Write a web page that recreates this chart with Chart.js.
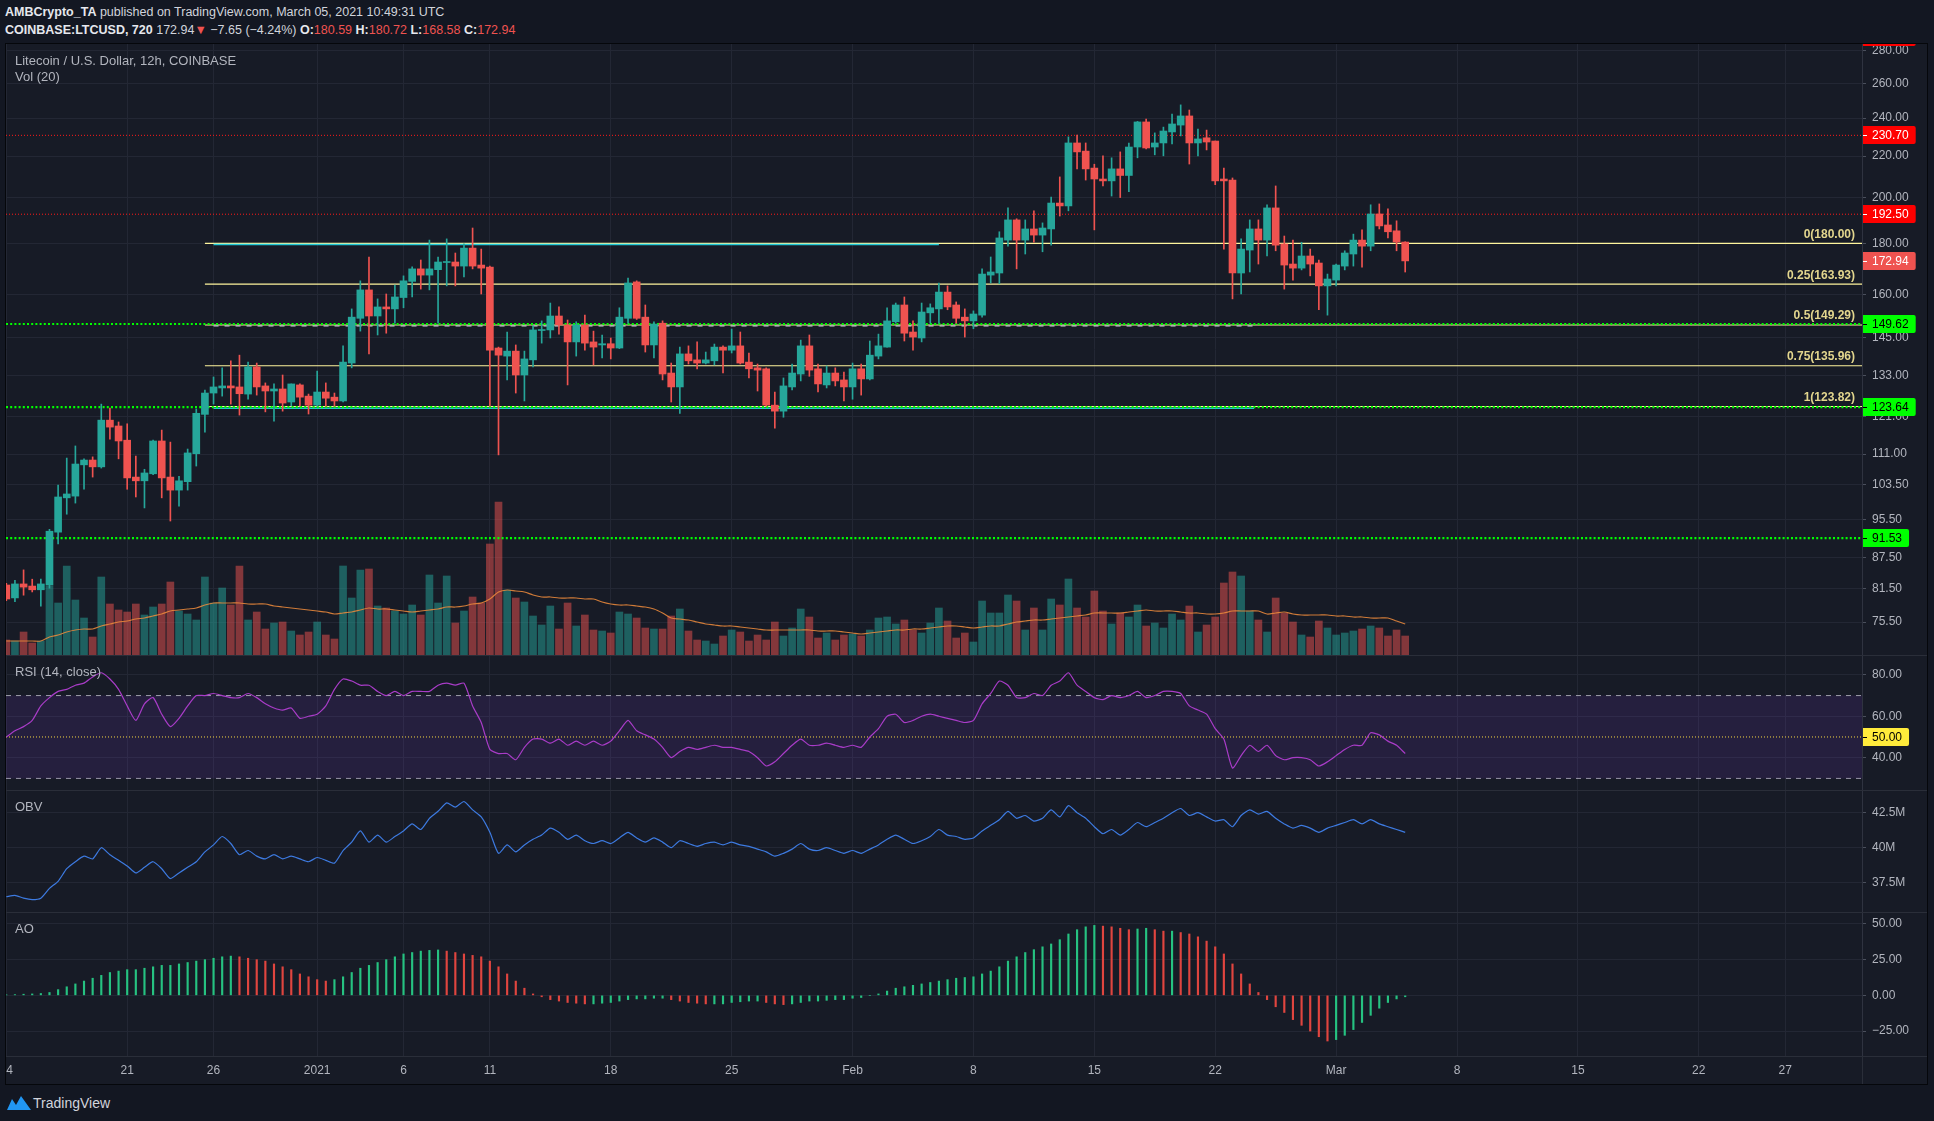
<!DOCTYPE html>
<html>
<head>
<meta charset="utf-8">
<script src="https://cdn.jsdelivr.net/npm/chart.js@4.4.1/dist/chart.umd.min.js"></script>
<style>
  html, body { margin: 0; padding: 0; background: #131722; width: 1934px; height: 1121px; overflow: hidden;
    font-family: "Liberation Sans", Arial, sans-serif; }
  .hdr { position: absolute; left: 5px; color: #d1d4dc; white-space: nowrap; line-height: 16px; font-size: 12.5px; }
  .hdr b { color: #e6e8ee; }
  .hdr .r { color: #ef5350; }
  #frame { position: absolute; left: 5px; top: 43px; width: 1923px; height: 1042px; box-sizing: border-box;
    border: 1px solid #05070b; background: #171b26; }
  canvas { position: absolute; left: 6px; }
  .sep { position: absolute; left: 6px; width: 1921px; height: 1px; background: #2a2e39; }
  #foot { position: absolute; left: 33px; top: 1095px; font-size: 14px; color: #d1d4dc; }
</style>
</head>
<body>
<div class="hdr" style="top:4px"><b>AMBCrypto_TA</b> published on TradingView.com, March 05, 2021 10:49:31 UTC</div>
<div class="hdr" style="top:22px"><b>COINBASE:LTCUSD, 720</b> 172.94<span class="r">▼</span> −7.65 (−4.24%) <b>O:</b><span class="r">180.59</span> <b>H:</b><span class="r">180.72</span> <b>L:</b><span class="r">168.58</span> <b>C:</b><span class="r">172.94</span></div>
<div id="frame"></div>
<canvas id="price" width="1921" height="611" style="top:44px"></canvas>
<canvas id="rsi" width="1921" height="134" style="top:656px"></canvas>
<canvas id="obv" width="1921" height="121" style="top:791px"></canvas>
<canvas id="ao" width="1921" height="171" style="top:913px"></canvas>
<div class="sep" style="top:655px"></div>
<div class="sep" style="top:790px"></div>
<div class="sep" style="top:912px"></div>
<div class="sep" style="top:1056px"></div>
<div style="position:absolute;left:1862px;top:1056px;width:1px;height:28px;background:#2a2e39"></div>
<svg style="position:absolute;left:7px;top:1094px" width="24" height="16" viewBox="0 0 24 16">
  <path d="M0 16 L5 5 L9 11 L14 2 L19 9 L24 16 Z" fill="#2196f3"/>
</svg>
<div id="foot">TradingView</div>
<script>
// 12h candles, index 0 = Dec 14 2020 00:00 UTC
const opens = [82.2,79.8,82.4,82.0,81.3,82.2,92.8,100.4,100.8,108.3,
  109.5,107.8,120.0,118.4,114.6,105.3,104.4,106.1,114.4,105.3,
  102.2,104.2,111.1,121.6,127.7,129.2,129.8,129.5,127.4,135.6,
  129.8,128.3,128.9,125.1,130.1,126.8,124.2,128.0,126.5,125.4,
  136.8,151.6,161.8,152.4,155.6,154.9,159.0,165.0,169.8,167.4,
  169.5,172.3,172.5,170.9,178.1,171.3,170.5,141.6,139.0,140.6,
  133.1,137.8,147.4,147.6,152.4,149.3,143.6,149.3,143.6,142.6,
  143.0,141.6,151.6,164.8,152.0,142.6,149.9,133.7,129.5,139.7,
  137.8,136.8,137.5,141.9,140.9,142.3,137.1,135.3,135.0,124.2,
  122.5,129.5,133.4,142.3,135.0,130.1,133.7,131.6,129.5,135.0,
  131.9,139.0,141.9,150.4,156.3,146.9,144.9,153.5,154.9,161.0,
  156.3,152.0,150.7,152.7,167.4,168.2,181.4,190.0,181.4,186.1,
  183.5,186.1,197.5,196.2,226.7,222.5,214.0,208.7,207.8,213.6,
  210.4,224.6,237.9,224.6,226.7,232.5,236.2,241.2,226.7,229.4,
  227.7,208.7,208.2,168.2,177.3,186.1,181.4,195.3,179.8,171.7,
  170.1,174.9,172.1,163.3,165.5,170.9,175.7,181.4,178.9,192.6,
  187.8,185.3,180.59];
const highs = [82.5,83.1,85.1,83.3,83.3,93.4,103.4,110.0,113.1,109.8,
  110.3,124.5,123.4,119.5,119.0,110.5,107.2,114.6,117.3,114.1,
  105.5,112.3,123.1,128.6,132.5,135.3,137.5,139.3,137.1,136.8,
  130.7,130.4,133.1,130.4,130.4,127.4,134.3,130.7,127.7,142.3,
  154.9,165.2,174.5,158.5,160.3,163.6,167.1,170.6,173.3,181.4,
  174.5,181.9,176.1,179.8,186.5,177.7,170.9,141.9,146.9,142.6,
  140.6,149.0,150.7,157.0,155.6,151.0,150.4,152.7,147.2,145.9,
  144.9,155.3,166.3,165.2,156.3,150.4,150.7,136.8,141.9,142.3,
  143.6,140.3,142.9,142.3,147.9,146.9,140.0,136.5,135.3,128.0,
  132.2,136.5,144.2,145.9,136.5,135.9,135.3,134.0,136.8,136.5,
  143.9,146.2,155.3,157.0,159.2,150.7,157.0,156.7,164.4,163.3,
  157.4,154.9,154.2,169.8,174.5,184.9,195.3,190.5,190.0,194.0,
  188.7,200.2,209.7,229.9,230.9,226.7,215.9,220.1,219.1,222.1,
  226.7,238.2,239.5,232.0,235.1,242.3,247.4,244.5,234.1,233.5,
  227.7,214.0,209.2,181.9,190.0,190.0,196.7,205.4,183.1,181.4,
  180.5,177.7,173.3,167.8,171.7,177.0,183.9,185.7,196.7,197.1,
  194.9,189.6,180.72];
const lows = [79.3,79.1,80.3,80.9,78.3,81.6,90.3,96.7,99.2,102.4,
  105.3,107.5,114.9,109.8,102.4,100.6,98.1,105.9,100.4,95.2,
  98.5,102.2,108.0,116.7,124.5,126.8,124.5,121.4,125.9,127.1,
  122.3,119.7,122.5,124.0,123.9,121.7,123.9,123.9,123.9,125.1,
  135.3,147.2,139.7,145.9,146.5,149.9,155.3,159.2,162.1,161.8,
  149.9,163.3,163.3,166.7,169.8,160.3,123.9,110.8,131.6,127.7,
  125.4,135.6,143.2,144.9,146.2,130.1,139.0,140.9,136.2,138.4,
  138.1,141.4,149.9,151.2,140.3,138.4,131.6,125.1,121.9,136.5,
  135.0,136.5,136.2,133.7,140.0,136.5,132.2,128.3,123.9,117.8,
  120.8,128.6,131.3,132.7,128.0,129.2,129.8,125.4,125.9,127.1,
  131.6,138.1,141.9,149.9,143.9,140.9,143.6,149.9,149.9,154.6,
  149.9,145.2,148.0,152.0,164.4,164.1,178.9,169.8,175.7,180.5,
  176.6,179.3,191.7,194.0,213.6,208.2,185.7,205.4,200.7,200.0,
  202.7,219.1,223.6,220.6,220.1,226.2,230.4,216.0,220.1,223.1,
  206.0,177.7,158.5,160.3,168.6,171.7,174.9,177.0,162.1,165.5,
  169.4,167.1,154.6,152.7,163.3,169.4,170.9,170.5,177.0,186.1,
  182.3,177.0,168.58];
const closes = [79.6,82.4,81.8,81.3,82.4,93.0,100.6,101.3,108.5,109.5,
  107.8,120.0,118.1,114.4,105.1,104.4,106.3,114.4,105.1,102.2,
  104.4,111.3,121.9,127.7,129.5,129.8,129.2,127.5,135.6,129.5,
  128.3,128.9,124.8,130.4,126.5,124.2,128.0,126.2,125.4,137.1,
  152.0,161.8,152.4,155.6,154.9,159.2,165.2,169.8,167.4,169.8,
  172.5,172.5,170.9,178.1,170.9,170.1,140.9,139.3,140.6,133.1,
  138.1,147.6,147.6,152.4,149.3,143.6,149.3,143.2,141.9,143.0,
  141.6,152.0,164.4,151.6,142.6,149.6,133.4,129.5,139.7,137.5,
  136.8,137.8,141.9,140.9,142.3,136.8,135.0,134.6,124.2,122.5,
  129.8,133.7,142.3,134.6,130.4,133.7,131.3,129.5,135.0,131.9,
  139.3,142.3,150.7,156.3,146.5,145.2,153.8,155.3,161.0,155.6,
  151.6,150.7,153.1,167.8,168.6,182.3,190.0,181.4,186.1,183.5,
  186.5,197.5,196.2,226.7,222.1,213.6,208.7,207.8,213.6,210.4,
  224.6,237.9,224.1,226.7,233.0,236.8,241.2,226.7,228.8,227.2,
  207.8,207.8,168.2,177.7,186.1,181.4,195.3,179.3,171.3,170.1,
  174.9,171.7,163.3,165.9,171.3,176.1,181.4,178.9,192.6,187.4,
  184.9,180.59,172.94];
// volume, thousand LTC
const volumes = [150,140,230,120,140,690,520,890,550,370,
  180,780,510,450,430,510,400,480,510,730,
  440,410,350,780,520,670,500,890,350,430,
  260,320,330,240,200,230,330,200,160,890,
  570,850,860,490,470,440,410,500,400,800,
  520,790,320,440,580,520,1110,1530,650,570,
  530,390,300,490,260,520,290,400,250,240,
  220,430,410,370,270,260,260,390,460,240,
  150,140,110,190,250,230,140,200,150,330,
  190,270,460,380,170,220,150,200,210,190,
  250,370,380,310,350,250,220,320,470,340,
  170,220,130,540,420,420,600,540,250,470,
  250,560,500,760,470,380,640,440,310,420,
  380,500,290,320,270,410,350,490,230,300,
  380,720,830,790,440,350,230,570,420,330,
  200,180,340,270,200,220,240,260,290,270,
  190,250,190];
const volumeMA = [140,140,140,140,140,180,200,230,250,260,
  260,290,310,330,340,360,370,390,410,440,
  450,460,470,500,520,520,520,520,510,510,
  510,490,480,470,460,450,440,430,410,420,
  430,450,470,460,460,450,440,430,440,450,
  460,480,480,490,510,520,560,630,650,640,
  630,600,580,580,570,570,570,560,560,530,
  510,500,500,490,480,460,420,370,360,350,
  330,310,300,290,290,280,270,260,250,250,
  250,250,250,250,240,240,240,230,220,210,
  220,230,240,250,250,260,260,270,280,290,
  290,280,270,280,290,290,310,330,340,350,
  350,360,370,380,390,400,420,420,420,420,
  430,440,450,440,440,440,430,420,420,410,
  410,420,440,440,440,440,410,420,430,410,
  400,400,400,400,390,390,380,380,370,370,
  370,340,310];
const rsiValues = [50,53,55,58,65,69,72,73,75,76,
  79,81,78,73,65,58,66,69,61,55,
  59,65,70,70,71,70,69,69,71,69,
  66,64,63,64,59,60,61,65,73,78,
  77,75,75,72,70,72,70,72,72,72,
  75,76,75,76,65,57,44,42,42,39,
  45,49,49,47,49,46,48,46,48,46,
  48,53,58,53,51,49,45,40,43,45,
  44,45,46,45,45,44,43,40,36,38,
  42,46,49,46,46,47,46,45,46,45,
  50,54,60,61,57,58,60,61,60,59,
  58,57,58,66,71,77,75,69,69,71,
  70,75,77,81,75,72,69,68,70,69,
  70,72,69,70,72,72,71,65,63,61,
  54,49,35,41,46,43,46,41,39,40,
  40,39,36,38,41,44,46,46,52,51,
  48,46,42];
// on-balance volume, millions
const obvValues = [36.5,36.6,36.4,36.3,36.4,37.1,37.6,38.5,39.0,39.4,
  39.2,40.0,39.5,39.1,38.7,38.2,38.6,39.0,38.5,37.8,
  38.2,38.6,39.0,39.7,40.2,40.8,40.3,39.5,39.8,39.4,
  39.2,39.5,39.2,39.4,39.2,39.0,39.3,39.1,38.9,39.8,
  40.4,41.2,40.4,40.9,40.4,40.8,41.2,41.7,41.3,42.1,
  42.6,43.2,42.9,43.3,42.7,42.2,41.1,39.6,40.2,39.7,
  40.2,40.6,40.9,41.4,41.1,40.6,40.9,40.5,40.3,40.5,
  40.3,40.7,41.1,40.7,40.4,40.7,40.4,40.0,40.5,40.3,
  40.1,40.3,40.4,40.2,40.4,40.2,40.1,39.9,39.7,39.4,
  39.6,39.9,40.3,39.9,39.8,40.0,39.8,39.6,39.8,39.6,
  39.9,40.2,40.6,40.9,40.6,40.3,40.5,40.8,41.3,40.9,
  40.8,40.6,40.7,41.2,41.6,42.0,42.6,42.1,42.3,41.9,
  42.1,42.7,42.2,43.0,42.5,42.1,41.5,41.0,41.3,40.9,
  41.3,41.8,41.5,41.8,42.1,42.5,42.8,42.3,42.5,42.2,
  41.9,42.0,41.5,42.3,42.7,42.4,42.6,42.1,41.7,41.4,
  41.6,41.4,41.1,41.4,41.6,41.8,42.0,41.7,42.0,41.7,
  41.5,41.3,41.1];
const aoValues = [0.3,0.5,0.8,1.0,1.3,2,4,6,8,10,
  12,14,16,17,18,18,19,20,21,21,
  22,23,24,25,26,27,27.5,27,26,25,
  24,22,20,18,15,13,11,10,11,13,
  16,19,21,23,25,27,29,30,31,31.5,
  31.8,31,30,29,28,27,24,20,15,10,
  5,1,-1,-3,-4,-5,-5.5,-6,-6,-5.5,
  -5,-4,-3,-2.5,-2.5,-2,-2,-3,-4,-5,
  -5.5,-6,-6,-6,-5,-4.5,-4,-4,-5,-6,
  -6.5,-6,-5,-4,-4,-3.5,-3,-3,-2,-1.5,
  0,1,3,5,6,7,8,9,10,11,
  12,12.5,13,15,17,20,24,27,30,32,
  34,36,39,43,46,48,49,48.5,48,47,
  46,46.5,47,46,45,45,44,43,41,38,
  34,29,22,15,8,2,-3,-8,-12,-17,
  -21,-25,-29,-32,-31,-28,-24,-19,-14,-9,
  -5,-2.5,-1];

const tickIdx = [0, 14, 24, 36, 46, 56, 70, 84, 98, 112, 126, 140, 154, 168, 182, 196, 206];
const tickLabels = ['14', '21', '26', '2021', '6', '11', '18', '25', 'Feb', '8', '15', '22', 'Mar', '8', '15', '22', '27'];
const priceTicks = [280, 260, 240, 220, 200, 180, 160, 145, 133, 121, 111, 103.5, 95.5, 87.5, 81.5, 75.5];
const rsiTicks = [80, 60, 40];
const obvTicks = [42.5, 40, 37.5];
const aoTicks = [50, 25, 0, -25];

const fibLevels = [180.00, 163.93, 149.29, 135.96, 123.82];
const fibNames = ['0', '0.25', '0.5', '0.75', '1'];
const greenLevels = [149.62, 123.64, 91.53];
const redLevels = [230.70, 192.50];
const cyanLevels = [179.6, 123.3];
const cyanEnds = [108, 144.5];
const grayLevel = 149.0;
const lastPrice = 172.94;

const X_MIN = -0.035, X_MAX = 214.9;
const FIB_START = 23, RAY_START = 24;
const UP = '#26a69a', DN = '#ef5350';
const GRID = '#232734', TXT = '#b2b5be';
const FONT = { family: '"Liberation Sans", Arial, sans-serif', size: 12 };
const AXIS_W = 65;

const idx = closes.map((_, i) => i);
const dirColor = idx.map(i => closes[i] >= opens[i] ? UP : DN);
const volColor = idx.map(i => closes[i] >= opens[i] ? 'rgba(38,166,154,0.5)' : 'rgba(239,83,80,0.5)');

function noPad(s) { s.paddingTop = 0; s.paddingBottom = 0; s.paddingLeft = 0; s.paddingRight = 0; }

function xScale(bottom) {
  return {
    type: 'linear', min: X_MIN, max: X_MAX, offset: false,
    afterBuildTicks: s => { s.ticks = tickIdx.map(v => ({ value: v })); },
    afterFit: s => { s.height = bottom ? 28 : 0; noPad(s); },
    ticks: { display: bottom, autoSkip: false, maxRotation: 0, color: TXT, font: FONT, padding: 7,
      callback: v => tickLabels[tickIdx.indexOf(v)] },
    grid: { color: GRID, drawTicks: false, offset: false },
    border: { display: false }
  };
}
function yScale(min, max, ticks, fmt, type) {
  return {
    type: type || 'linear', position: 'right', min: min, max: max,
    afterBuildTicks: s => { s.ticks = ticks.map(v => ({ value: v })); },
    afterFit: s => { s.width = AXIS_W; noPad(s); },
    ticks: { autoSkip: false, color: TXT, font: FONT, padding: 6, callback: fmt },
    grid: { color: GRID, tickLength: 4, tickColor: '#4a4f5c' },
    border: { display: true, color: '#2f3340' }
  };
}
function hline(v, x0, x1, color, width, dash, extra) {
  return Object.assign({ type: 'line', data: [{ x: x0, y: v }, { x: x1, y: v }], borderColor: color,
    borderWidth: width, borderDash: dash || [], pointRadius: 0, yAxisID: 'y', order: 5 }, extra || {});
}

const decor = {
  id: 'decor',
  afterDraw(chart, args, o) {
    const ctx = chart.ctx, ca = chart.chartArea, ys = chart.scales.y;
    ctx.save();
    ctx.textBaseline = 'middle';
    (o.texts || []).forEach(t => {
      ctx.font = (t.bold ? 'bold ' : '') + (t.size || 13) + 'px "Liberation Sans", Arial, sans-serif';
      ctx.fillStyle = t.color || TXT;
      ctx.textAlign = t.align || 'left';
      const y = t.v !== undefined ? ys.getPixelForValue(t.v) - 9 : t.y;
      const x = t.x !== undefined ? t.x : ca.right - 7;
      ctx.fillText(t.text, x, y);
    });
    ctx.textAlign = 'left';
    ctx.font = '12px "Liberation Sans", Arial, sans-serif';
    (o.boxes || []).forEach(b => {
      const y = Math.round(ys.getPixelForValue(b.v));
      const w = ctx.measureText(b.text).width + 16;
      ctx.fillStyle = b.bg;
      ctx.beginPath();
      ctx.roundRect(ca.right + 1, y - 9, w, 18, [0, 2, 2, 0]);
      ctx.fill();
      ctx.fillStyle = b.fg;
      ctx.fillRect(ca.right + 1, y, 4, 1);
      ctx.fillText(b.text, ca.right + 10, y + 1);
    });
    ctx.restore();
  }
};
Chart.register(decor);

const common = {
  responsive: false, animation: false, events: [],
  layout: { padding: 0 }
};

// price pane
const priceSets = [
  { type: 'bar', label: 'Vol', yAxisID: 'yv', data: idx.map(i => ({ x: i, y: volumes[i] })),
    backgroundColor: volColor, barThickness: 7, grouped: false, order: 10 },
  { type: 'line', label: 'Vol MA', yAxisID: 'yv', data: idx.map(i => ({ x: i, y: volumeMA[i] })),
    borderColor: 'rgba(240,140,60,0.85)', borderWidth: 1.2, pointRadius: 0, tension: 0.3, order: 9 }
];
greenLevels.forEach(v => priceSets.push(hline(v, X_MIN, X_MAX, '#00ff00', 2.2, [2, 2.2])));
redLevels.forEach(v => priceSets.push(hline(v, X_MIN, X_MAX, '#ff1a1a', 1, [1, 2])));
cyanLevels.forEach((v, k) => priceSets.push(hline(v, RAY_START, cyanEnds[k], '#1fc8d8', 1.6)));
priceSets.push(hline(grayLevel, RAY_START, cyanEnds[1], 'rgba(190,192,198,0.75)', 1.6, [5, 6]));
fibLevels.forEach(v => priceSets.push(hline(v, FIB_START, X_MAX, '#fff59d', 1.2)));
priceSets.push({ type: 'bar', label: 'wick', data: idx.map(i => ({ x: i, y: [lows[i], highs[i]] })),
  backgroundColor: dirColor, barThickness: 1, grouped: false, order: 2 });
priceSets.push({ type: 'bar', label: 'body', data: idx.map(i => ({ x: i, y: [opens[i], closes[i]] })),
  backgroundColor: dirColor, barThickness: 7, minBarLength: 1, grouped: false, order: 1 });

const fibTexts = fibLevels.map((v, k) => ({ v: v, text: fibNames[k] + '(' + v.toFixed(2) + ')',
  color: '#e3d68e', bold: true, size: 12, align: 'right' }));

new Chart(document.getElementById('price'), {
  type: 'bar',
  data: { datasets: priceSets },
  options: Object.assign({}, common, {
    scales: {
      x: xScale(false),
      y: yScale(70.0, 284.5, priceTicks, v => Number(v).toFixed(2), 'logarithmic'),
      yv: { type: 'linear', display: false, min: 0, max: 6110 }
    },
    plugins: {
      legend: { display: false }, tooltip: { enabled: false },
      decor: {
        texts: fibTexts.concat([
          { x: 9, y: 17, text: 'Litecoin / U.S. Dollar, 12h, COINBASE', color: TXT },
          { x: 9, y: 33, text: 'Vol (20)', color: TXT }
        ]),
        boxes: [
          { v: 289, text: '289.00', bg: '#ff0000', fg: '#ffffff' },
          { v: redLevels[0], text: '230.70', bg: '#ff0000', fg: '#ffffff' },
          { v: redLevels[1], text: '192.50', bg: '#ff0000', fg: '#ffffff' },
          { v: lastPrice, text: '172.94', bg: '#ef5350', fg: '#ffffff' },
          { v: greenLevels[0], text: '149.62', bg: '#00ff00', fg: '#000000' },
          { v: greenLevels[1], text: '123.64', bg: '#00ff00', fg: '#000000' },
          { v: greenLevels[2], text: '91.53', bg: '#00ff00', fg: '#000000' }
        ]
      }
    }
  })
});

// RSI pane
new Chart(document.getElementById('rsi'), {
  type: 'line',
  data: { datasets: [
    hline(70, X_MIN, X_MAX, 'rgba(200,202,210,0.75)', 1, [5, 5], { fill: '+1', backgroundColor: 'rgba(120,60,200,0.15)', order: 6 }),
    hline(30, X_MIN, X_MAX, 'rgba(200,202,210,0.75)', 1, [5, 5], { order: 6 }),
    hline(50, X_MIN, X_MAX, '#f5d742', 1, [1, 2]),
    { data: idx.map(i => ({ x: i, y: rsiValues[i] })), borderColor: '#a93cc8', borderWidth: 1.2,
      pointRadius: 0, tension: 0.2, order: 1 }
  ] },
  options: Object.assign({}, common, {
    scales: { x: xScale(false), y: yScale(24.4, 89.1, rsiTicks, v => Number(v).toFixed(2)) },
    plugins: { legend: { display: false }, tooltip: { enabled: false },
      decor: { texts: [{ x: 9, y: 16, text: 'RSI (14, close)', color: TXT }],
        boxes: [{ v: 50, text: '50.00', bg: '#ffeb3b', fg: '#000000' }] } }
  })
});

// OBV pane
new Chart(document.getElementById('obv'), {
  type: 'line',
  data: { datasets: [
    { data: idx.map(i => ({ x: i, y: obvValues[i] })), borderColor: '#3d7ae0', borderWidth: 1.2,
      pointRadius: 0, tension: 0.2 }
  ] },
  options: Object.assign({}, common, {
    scales: { x: xScale(false), y: yScale(35.41, 44.05, obvTicks, v => v + 'M') },
    plugins: { legend: { display: false }, tooltip: { enabled: false },
      decor: { texts: [{ x: 9, y: 16, text: 'OBV', color: TXT }] } }
  })
});

// AO pane with time axis
const aoColor = idx.map(i => (i === 0 || aoValues[i] >= aoValues[i - 1]) ? '#26c281' : '#e0453f');
new Chart(document.getElementById('ao'), {
  type: 'bar',
  data: { datasets: [
    { data: idx.map(i => ({ x: i, y: aoValues[i] })), backgroundColor: aoColor, barThickness: 1.5, grouped: false }
  ] },
  options: Object.assign({}, common, {
    scales: { x: xScale(true),
      y: yScale(-42.5, 57.7, aoTicks, v => (v < 0 ? '\u2212' + Math.abs(v).toFixed(2) : Number(v).toFixed(2))) },
    plugins: { legend: { display: false }, tooltip: { enabled: false },
      decor: { texts: [{ x: 9, y: 16, text: 'AO', color: TXT }] } }
  })
});
</script>
</body>
</html>
